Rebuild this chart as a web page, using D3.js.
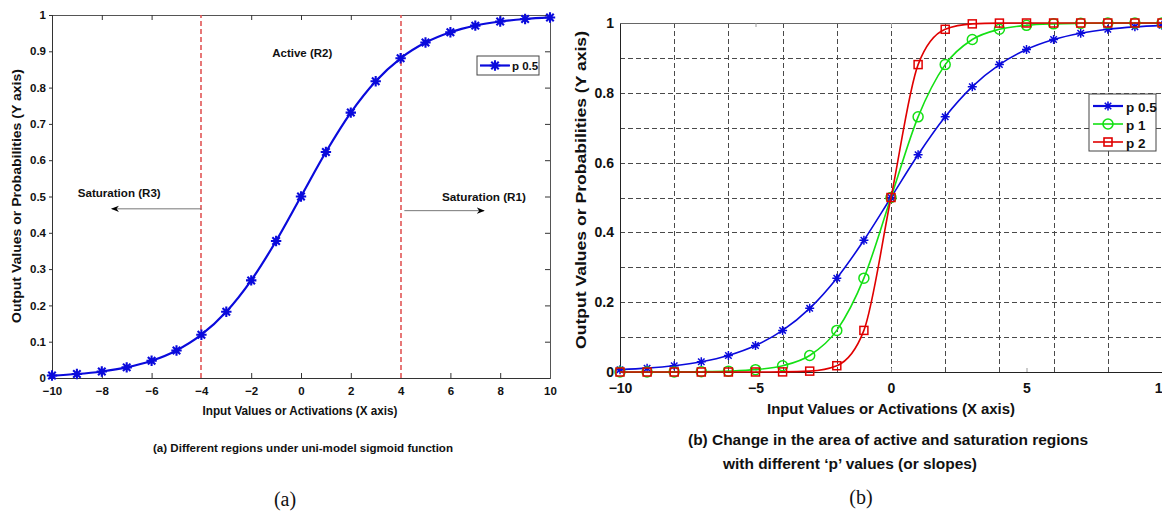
<!DOCTYPE html>
<html><head><meta charset="utf-8">
<script src="https://cdn.jsdelivr.net/npm/d3@7"></script>
<style>
body{margin:0;background:#fff;}
text{font-family:"Liberation Sans",Arial,sans-serif;}
</style></head>
<body><svg id="c" width="1162" height="513"></svg>
<script>
// ---- data ----
const xValues = [-10,-9,-8,-7,-6,-5,-4,-3,-2,-1,0,1,2,3,4,5,6,7,8,9,10];
const p05 = [0.0067,0.0110,0.0180,0.0293,0.0474,0.0759,0.1192,0.1824,0.2689,0.3775,0.5,0.6225,0.7311,0.8176,0.8808,0.9241,0.9526,0.9707,0.9820,0.9890,0.9933];
const p1  = [0.00005,0.0001,0.0003,0.0009,0.0025,0.0067,0.0180,0.0474,0.1192,0.2689,0.5,0.7311,0.8808,0.9526,0.9820,0.9933,0.9975,0.9991,0.9997,0.9999,1.0];
const p2  = [0,0,0,0,0,0.00005,0.0003,0.0025,0.0180,0.1192,0.5,0.8808,0.9820,0.9975,0.9997,1,1,1,1,1,1];
const seriesNames = ["p 0.5","p 1","p 2"];
const leftXTicks = [-10,-8,-6,-4,-2,0,2,4,6,8,10];
const leftYTicks = [0,0.1,0.2,0.3,0.4,0.5,0.6,0.7,0.8,0.9,1];
const rightXTicks = [-10,-5,0,5,10];
const rightYTicks = [0,0.2,0.4,0.6,0.8,1];
const rightXGrid = [-8,-6,-4,-2,0,2,4,6,8];
const rightYGrid = [0.1,0.2,0.3,0.4,0.5,0.6,0.7,0.8,0.9];
const regionBounds = [-4,4];

const svg = d3.select("#c");
const BLUE="#0a0adc", GREEN="#14e014", RED="#e00000";

function starPath(s){const a=s*0.72;return `M${-s},0L${s},0M0,${-s}L0,${s}M${-a},${-a}L${a},${a}M${-a},${a}L${a},${-a}`;}
function marker(g,type,x,y,color,size,sw){
  if(type==="star") g.append("path").attr("d",starPath(size)).attr("transform",`translate(${x},${y})`).attr("stroke",color).attr("stroke-width",sw).attr("fill","none");
  else if(type==="circle") g.append("circle").attr("cx",x).attr("cy",y).attr("r",size).attr("stroke",color).attr("stroke-width",sw).attr("fill","none");
  else g.append("rect").attr("x",x-size).attr("y",y-size).attr("width",2*size).attr("height",2*size).attr("stroke",color).attr("stroke-width",sw).attr("fill","none");
}
function txt(g,s,x,y,opt){
  const t=g.append("text").attr("x",x).attr("y",y).text(s)
    .attr("font-size",opt.size||11).attr("font-weight",opt.weight||"bold")
    .attr("text-anchor",opt.anchor||"middle").attr("dominant-baseline","central").attr("fill","#111");
  if(opt.len) t.attr("textLength",opt.len).attr("lengthAdjust","spacingAndGlyphs");
  if(opt.family) t.style("font-family",opt.family);
  if(opt.rotate) t.attr("transform",`rotate(-90,${x},${y})`);
  return t;
}
const px = v => Math.round(v)+0.5;

// ================= LEFT PANEL =================
const xL = d3.scaleLinear().domain([-10,10]).range([52,550]);
const yL = d3.scaleLinear().domain([0,1]).range([378,15]);
const gL = svg.append("g");

const bx = gL.append("g").attr("transform",`translate(0,${yL(0)})`).call(d3.axisBottom(xL).tickValues(leftXTicks).tickSize(-5).tickPadding(9).tickFormat(d3.format("d")));
const tx = gL.append("g").attr("transform",`translate(0,${yL(1)})`).call(d3.axisTop(xL).tickValues(leftXTicks).tickSize(-5).tickFormat(""));
const ly = gL.append("g").attr("transform",`translate(${xL(-10)},0)`).call(d3.axisLeft(yL).tickValues(leftYTicks).tickSize(3).tickPadding(3).tickFormat(d=>String(d)));
const ry = gL.append("g").attr("transform",`translate(${xL(10)},0)`).call(d3.axisRight(yL).tickValues(leftYTicks).tickSize(-5).tickFormat(""));
[bx,tx,ly,ry].forEach(a=>{a.select(".domain").attr("stroke","#333");a.selectAll(".tick line").attr("stroke","#333");a.selectAll("text").attr("font-size",11.5).attr("font-weight","bold").attr("fill","#111").style("font-family","Liberation Sans, Arial");});
tx.select(".domain").attr("stroke","#555"); ry.select(".domain").attr("stroke","#555");
[bx,tx].forEach(a=>a.selectAll(".tick").filter(d=>regionBounds.includes(d)).select("line").remove());

// red dashed region boundaries (slightly wide so the red stays visible)
regionBounds.forEach(b=>gL.append("line").attr("x1",Math.round(xL(b))).attr("x2",Math.round(xL(b))).attr("y1",yL(0)).attr("y2",yL(1)).attr("stroke","#e25555").attr("stroke-width",1.6).attr("stroke-dasharray","5,3"));

const lineL = d3.line().x((d,i)=>xL(xValues[i])).y(d=>yL(d)).curve(d3.curveMonotoneX);
gL.append("path").attr("d",lineL(p05)).attr("fill","none").attr("stroke",BLUE).attr("stroke-width",2.2);
p05.forEach((v,i)=>marker(gL,"star",xL(xValues[i]),yL(v),BLUE,5.2,2.1));

txt(gL,"Active (R2)",xL(0.05),yL(0.895),{size:11.5,len:60});
txt(gL,"Saturation (R3)",xL(-7.3),yL(0.51),{size:11.5,len:83});
txt(gL,"Saturation (R1)",xL(7.35),yL(0.498),{size:11.5,len:84});
const defs = svg.append("defs");
defs.append("marker").attr("id","ah").attr("viewBox","0 0 10 10").attr("refX",9).attr("refY",5).attr("markerWidth",8).attr("markerHeight",8).attr("orient","auto-start-reverse")
  .append("path").attr("d","M0,1L10,5L0,9L3,5Z").attr("fill","#000");
gL.append("line").attr("x1",xL(-4)).attr("x2",xL(-7.6)).attr("y1",yL(0.466)).attr("y2",yL(0.466)).attr("stroke","#777").attr("stroke-width",1).attr("marker-end","url(#ah)");
gL.append("line").attr("x1",xL(4.15)).attr("x2",xL(7.35)).attr("y1",yL(0.461)).attr("y2",yL(0.461)).attr("stroke","#777").attr("stroke-width",1).attr("marker-end","url(#ah)");

const lgL = gL.append("g");
lgL.append("rect").attr("x",477).attr("y",56).attr("width",62).attr("height",19).attr("fill","#fff").attr("stroke","#444").attr("stroke-width",1);
lgL.append("line").attr("x1",480).attr("x2",510).attr("y1",65.5).attr("y2",65.5).attr("stroke",BLUE).attr("stroke-width",2.2);
marker(lgL,"star",495,65.5,BLUE,5.2,2.1);
txt(lgL,seriesNames[0],512,66,{size:11.5,anchor:"start"});

txt(gL,"Input Values or Activations (X axis)",300,411,{size:12,len:195});
txt(gL,"Output Values or Probabilities (Y axis)",17,196,{size:12,len:254,rotate:true});
txt(gL,"(a) Different regions under uni-model sigmoid function",303,448,{size:11,len:300});
txt(gL,"(a)",285,499,{size:20,weight:"normal",family:"Liberation Serif, Times New Roman, serif"});

// ================= RIGHT PANEL =================
const xR = d3.scaleLinear().domain([-10,10]).range([620,1162]);
const yR = d3.scaleLinear().domain([0,1]).range([372,23]);
const gR = svg.append("g");

rightXGrid.forEach(v=>gR.append("line").attr("x1",px(xR(v))).attr("x2",px(xR(v))).attr("y1",yR(0)).attr("y2",yR(1)).attr("stroke","#4a4a4a").attr("stroke-width",1).attr("stroke-dasharray","5,3"));
rightYGrid.forEach(v=>gR.append("line").attr("x1",xR(-10)).attr("x2",xR(10)).attr("y1",px(yR(v))).attr("y2",px(yR(v))).attr("stroke","#4a4a4a").attr("stroke-width",1).attr("stroke-dasharray","5,3"));

const bxR = gR.append("g").attr("transform",`translate(0,${yR(0)})`).call(d3.axisBottom(xR).tickValues(rightXTicks).tickSize(-4).tickPadding(11).tickFormat(d3.format("d")));
const txR = gR.append("g").attr("transform",`translate(0,${yR(1)})`).call(d3.axisTop(xR).tickValues(rightXTicks).tickSize(-4).tickFormat(""));
const lyR = gR.append("g").attr("transform",`translate(${xR(-10)},0)`).call(d3.axisLeft(yR).tickValues(rightYTicks).tickSize(0).tickPadding(6).tickFormat(d=>String(d)));
[bxR,txR,lyR].forEach(a=>{a.select(".domain").attr("stroke","#222");a.selectAll(".tick line").attr("stroke","#999");a.selectAll("text").attr("font-size",14).attr("font-weight","bold").attr("fill","#111").style("font-family","Liberation Sans, Arial");});
txR.select(".domain").attr("stroke","#666");

const lineR = d3.line().x((d,i)=>xR(xValues[i])).y(d=>yR(d)).curve(d3.curveMonotoneX);
const series = [{v:p05,c:BLUE,m:"star",s:4.5},{v:p1,c:GREEN,m:"circle",s:5},{v:p2,c:RED,m:"square",s:4}];
series.forEach(s=>{
  gR.append("path").attr("d",lineR(s.v)).attr("fill","none").attr("stroke",s.c).attr("stroke-width",1.6);
  s.v.forEach((v,i)=>marker(gR,s.m,xR(xValues[i]),yR(v),s.c,s.s,1.5));
});

const lgR = gR.append("g");
lgR.append("rect").attr("x",1089).attr("y",94).attr("width",67).attr("height",57).attr("fill","#fff").attr("stroke","#444").attr("stroke-width",1);
series.forEach((s,i)=>{
  const y=106+i*18;
  lgR.append("line").attr("x1",1093).attr("x2",1123).attr("y1",y).attr("y2",y).attr("stroke",s.c).attr("stroke-width",i===0?2.2:1.6);
  marker(lgR,s.m,1108,y,s.c,s.s,1.6);
  txt(lgR,seriesNames[i],1126,y+1,{size:13.5,anchor:"start"});
});

txt(gR,"Input Values or Activations (X axis)",891,408,{size:15,len:248});
txt(gR,"Output Values or Probabilities (Y axis)",580,190,{size:15,len:318,rotate:true});
txt(gR,"(b) Change in the area of active and saturation regions",888,440,{size:14,len:400});
txt(gR,"with different ‘p’ values (or slopes)",850,464,{size:14,len:254});
txt(gR,"(b)",861,497,{size:20,weight:"normal",family:"Liberation Serif, Times New Roman, serif"});
</script></body></html>
